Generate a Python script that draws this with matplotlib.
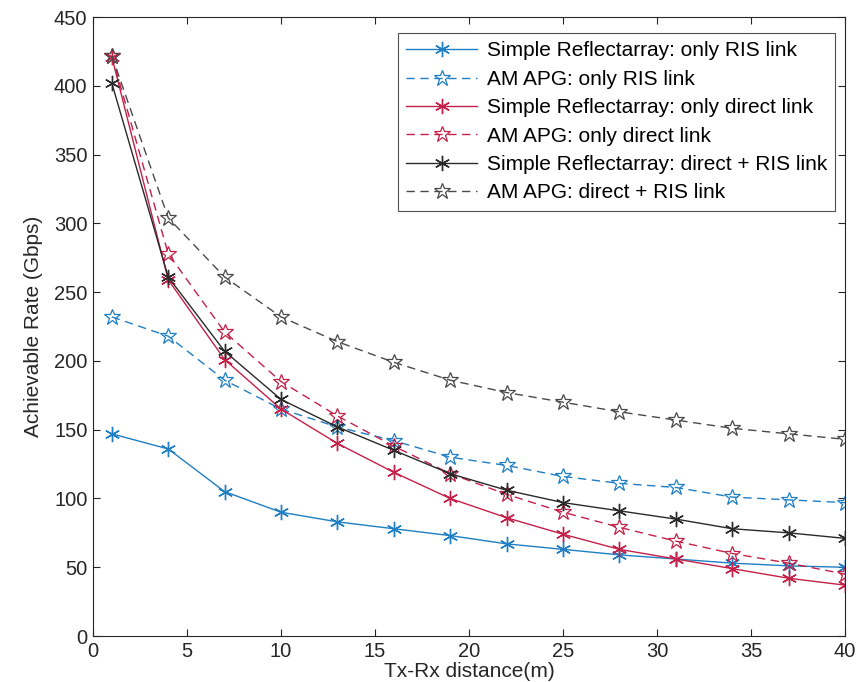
import matplotlib.pyplot as plt
import numpy as np

distance = [1, 4, 7, 10, 13, 16, 19, 22, 25, 28, 31, 34, 37, 40]

sr_ris = [147, 136, 105, 90, 83, 78, 73, 67, 63, 59, 56, 53, 51, 50]
am_ris = [232, 218, 186, 165, 152, 142, 130, 124, 116, 111, 108, 101, 99, 97]
sr_direct = [421, 259, 201, 165, 140, 119, 100, 86, 74, 63, 56, 49, 42, 37]
am_direct = [422, 278, 221, 185, 160, 138, 118, 103, 90, 79, 69, 60, 53, 45]
sr_both = [402, 261, 207, 172, 152, 135, 118, 106, 97, 91, 85, 78, 75, 71]
am_both = [422, 304, 261, 232, 214, 199, 186, 177, 170, 163, 157, 151, 147, 143]

labels = ['Simple Reflectarray: only RIS link', 'AM APG: only RIS link',
          'Simple Reflectarray: only direct link', 'AM APG: only direct link',
          'Simple Reflectarray: direct + RIS link', 'AM APG: direct + RIS link']

blue = '#1f7fc4'
red = '#c42048'
dark = '#2a2a2a'
gray = '#4a4a4a'

plt.rcParams['font.family'] = ['Liberation Sans', 'DejaVu Sans']

fig = plt.figure(figsize=(8.58, 6.82), dpi=100)
ax = fig.add_axes([0.1084, 0.0674, 0.8766, 0.9076])

asterisk = (6, 2, 0)
series = [
    (sr_ris, blue, '-', asterisk),
    (am_ris, blue, '--', '*'),
    (sr_direct, red, '-', asterisk),
    (am_direct, red, '--', '*'),
    (sr_both, dark, '-', asterisk),
    (am_both, gray, '--', '*'),
]
for (vals, col, ls, mk), lab in zip(series, labels):
    if mk == '*':
        ax.plot(distance, vals, color=col, linestyle=ls, linewidth=1.0,
                marker=mk, markersize=12, markerfacecolor='none',
                markeredgewidth=0.9, dashes=(6, 4), label=lab)
    else:
        ax.plot(distance, vals, color=col, linestyle=ls, linewidth=1.0,
                marker=mk, markersize=11, markeredgewidth=1.0, label=lab)

ax.set_xlim(0, 40)
ax.set_ylim(0, 450)
ax.set_xticks(np.arange(0, 41, 5))
ax.set_yticks(np.arange(0, 451, 50))
ax.tick_params(direction='in', top=True, right=True, labelsize=14.5,
               colors='#262626', length=5, pad=4)
for s in ax.spines.values():
    s.set_color('#262626')
    s.set_linewidth(0.8)
ax.set_xlabel('Tx-Rx distance(m)', fontsize=15, color='#262626', labelpad=1)
ax.set_ylabel('Achievable Rate (Gbps)', fontsize=15, color='#262626', labelpad=8)

leg = ax.legend(loc='upper right', fontsize=15, frameon=True, fancybox=False,
                edgecolor='#262626', handlelength=3.4, borderpad=0.4,
                labelspacing=0.45, handletextpad=0.45, borderaxespad=0,
                bbox_to_anchor=(0.987, 0.974))
leg.get_frame().set_linewidth(0.8)

fig.savefig('out.png', dpi=100)
